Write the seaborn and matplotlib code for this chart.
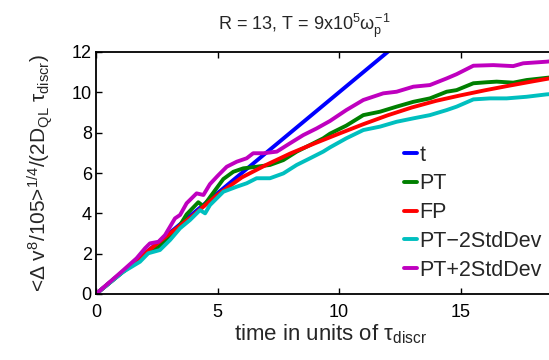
import pandas as pd
import numpy as np
import seaborn as sns
import matplotlib.pyplot as plt

# values (time in units of tau_discr)
t_x = [0, 20]
t_y = [0, 20]

pt_x = [0, 1.0, 1.7, 2.2, 2.6, 3.0, 3.4, 3.73, 4.21, 4.42, 4.69, 5.24, 5.65, 6.06,
        6.61, 7.16, 7.71, 8.26, 8.81, 9.35, 9.63, 10.3, 11.0, 11.69, 12.37, 13.06,
        13.74, 14.43, 14.84, 15.53, 16.08, 16.49, 17.17, 17.72, 18.55, 18.8]
pt_y = [0, 1.0, 1.62, 2.1, 2.35, 2.8, 3.3, 3.95, 4.55, 4.35, 4.8, 5.7, 6.06, 6.23,
        6.31, 6.4, 6.64, 7.06, 7.39, 7.72, 7.95, 8.35, 8.87, 9.04, 9.29, 9.53,
        9.7, 10.03, 10.11, 10.45, 10.5, 10.53, 10.48, 10.61, 10.72, 10.75]

fp_x = [0, 1, 2, 3, 4, 5, 6, 7, 8, 9, 10, 11, 12, 13, 14, 15, 16, 17, 18, 18.8]
fp_y = [0, 1.0, 2.0, 2.96, 3.9, 4.92, 5.78, 6.4, 6.97, 7.47, 7.95, 8.42, 8.86,
        9.25, 9.58, 9.85, 10.1, 10.33, 10.55, 10.72]

pt_minus_x = [0, 1.12, 1.81, 2.15, 2.63, 3.05, 3.46, 3.87, 4.28, 4.49, 4.69, 5.24,
              5.79, 6.2, 6.61, 7.16, 7.71, 8.26, 8.81, 9.35, 9.63, 10.3, 11.0,
              11.69, 12.37, 13.06, 13.74, 14.43, 14.84, 15.53, 16.21, 16.9, 17.72,
              18.55, 18.8]
pt_minus_y = [0, 1.1, 1.6, 2.02, 2.18, 2.68, 3.26, 3.67, 4.16, 4.0, 4.41, 5.07,
              5.32, 5.49, 5.74, 5.74, 5.98, 6.4, 6.73, 7.06, 7.27, 7.72, 8.13,
              8.3, 8.54, 8.71, 8.87, 9.12, 9.29, 9.65, 9.7, 9.7, 9.78, 9.9, 9.92]

pt_plus_x = [0, 1.0, 1.67, 2.02, 2.22, 2.57, 2.84, 3.25, 3.46, 3.73, 4.14, 4.42,
             4.69, 5.0, 5.38, 5.79, 6.2, 6.47, 6.89, 7.44, 7.98, 8.53, 9.08, 9.63,
             10.3, 11.0, 11.82, 12.37, 13.06, 13.74, 14.43, 14.84, 15.53, 16.35,
             17.17, 17.58, 18.55, 18.8]
pt_plus_y = [0, 1.05, 1.77, 2.27, 2.51, 2.59, 2.92, 3.75, 3.92, 4.5, 4.99, 4.91,
             5.45, 5.85, 6.31, 6.56, 6.73, 6.98, 6.98, 7.06, 7.47, 7.88, 8.21, 8.58,
             9.12, 9.62, 9.95, 10.03, 10.28, 10.36, 10.69, 10.9, 11.32, 11.35,
             11.3, 11.44, 11.52, 11.55]

names = ["t", "PT", "FP", "PT\u22122StdDev", "PT+2StdDev"]
colors = ["#0000ff", "#007f00", "#ff0000", "#00bfbf", "#bf00bf"]
xs = [t_x, pt_x, fp_x, pt_minus_x, pt_plus_x]
ys = [t_y, pt_y, fp_y, pt_minus_y, pt_plus_y]

df = pd.concat(
    [pd.DataFrame({"x": x, "y": y, "serie": n}) for x, y, n in zip(xs, ys, names)],
    ignore_index=True,
)

sns.set_style("ticks")
plt.rcParams["font.family"] = ["Liberation Sans", "DejaVu Sans"]
plt.rcParams["mathtext.fontset"] = "custom"
plt.rcParams["mathtext.rm"] = "Liberation Sans"
plt.rcParams["mathtext.it"] = "Liberation Sans"
plt.rcParams["mathtext.bf"] = "Liberation Sans:bold"

fig = plt.figure(figsize=(5.49, 3.6), dpi=100)
# axes runs past the right edge of the picture, like the cropped original
ax = fig.add_axes([96 / 549, 66 / 360, 486 / 549, 242 / 360])

sns.lineplot(data=df, x="x", y="y", hue="serie", hue_order=names,
             palette=colors, sort=False, estimator=None, linewidth=2.8, ax=ax)

ax.set_xlim(0, 20)
ax.set_ylim(0, 12)
ax.set_xticks([0, 5, 10, 15])
ax.set_yticks([0, 2, 4, 6, 8, 10, 12])
ax.tick_params(direction="in", length=4, width=1, labelsize=13,
               top=True, right=True, colors="black")
ax.tick_params(axis="y", pad=3)
ax.tick_params(axis="x", pad=7)
for s in ax.spines.values():
    s.set_linewidth(1.3)
    s.set_color("black")

# title centred on the visible part, as in the original crop
fig.text(304 / 549, 1 - 26 / 360, r"R = 13, T = 9x10$^5$$\omega_p^{-1}$",
         fontsize=13, ha="center", va="center")
ax.set_xlabel(r"time in units of $\tau_{discr}$", fontsize=16, labelpad=1,
              x=0.4835)
ax.set_ylabel(r"<$\Delta$ v$^8$/105>$^{1/4}$/(2D$_{QL}$ $\tau_{discr}$)",
              fontsize=15, labelpad=12)

ax.legend(loc="upper left", bbox_to_anchor=(0.736, 0.598),
          bbox_transform=fig.transFigure, frameon=False, fontsize=15.5,
          handlelength=0.6, handletextpad=0.1, labelspacing=0.36,
          borderpad=0, borderaxespad=0)

fig.savefig("out.png", dpi=100)
